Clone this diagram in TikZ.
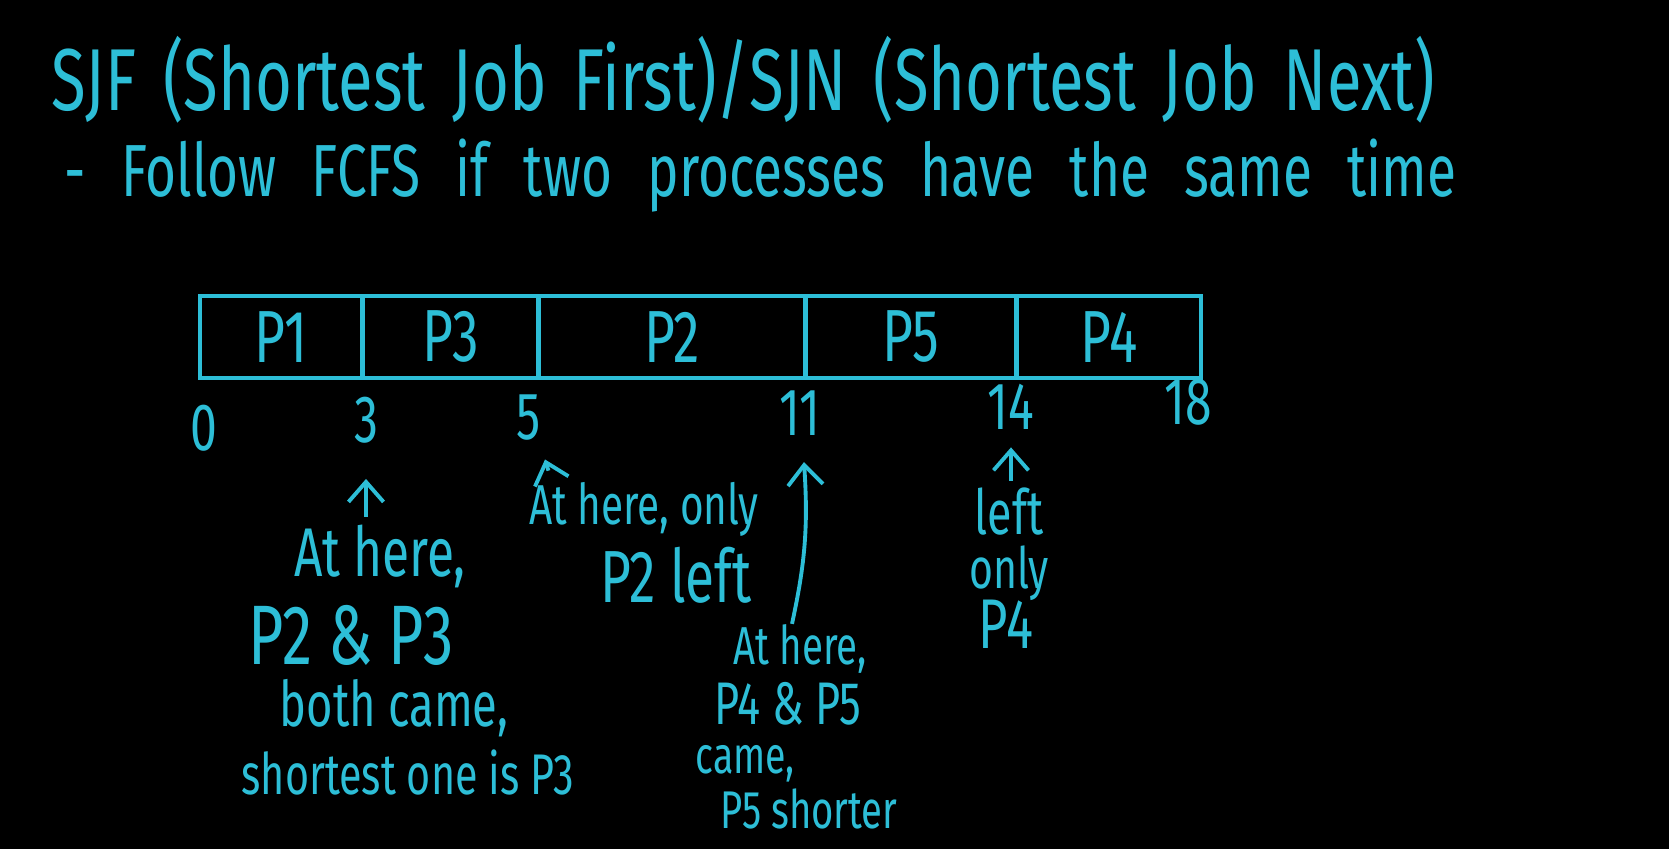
\documentclass[tikz,border=0pt]{standalone}
\usepackage{fontspec}
\setmainfont{Fira Sans}[FakeStretch=0.72]
\usetikzlibrary{arrows.meta}
\definecolor{ink}{RGB}{45,190,215}
\begin{document}
\begin{tikzpicture}[
      x=0.01cm, y=-0.01cm,
      every node/.style={text=ink, inner sep=0pt},
      cell/.style={draw=ink, line width=1.2pt, minimum height=0.82cm,
                   font=\fontsize{21}{24}\selectfont},
      tick/.style={font=\fontsize{19}{22}\selectfont},
      note/.style={font=\fontsize{#1}{#1}\selectfont},
      uparrow/.style={draw=ink, line width=1.1pt,
                      -{Straight Barb[length=2mm,width=3.5mm]}}
    ]
    % Fundo
    \fill[black] (0,0) rectangle (1669,849);

    % Titulo
    \node[anchor=west, font={\fontsize{25}{30}\selectfont\spaceskip=7.7pt\relax}] (title) at (51,80)
      {SJF (Shortest Job First)/SJN (Shortest Job Next)};
    \node[anchor=west, font={\fontsize{21}{26}\selectfont\spaceskip=10pt\relax}] (rule) at (64,176)
      {- Follow FCFS if two processes have the same time};

    % Diagrama de Gantt
    \foreach \name/\x/\w in {P1/281/1.62, P3/451/1.76, P2/672/2.68,
                             P5/911/2.11, P4/1109/1.84}
      \node[cell, minimum width=\w cm] (\name) at (\x,337) {\name};

    % Tempos
    \foreach \t/\x/\y in {0/204/428, 3/366/420, 5/529/418,
                          11/800/413, 14/1011/407, 18/1188/402}
      \node[tick] (t\t) at (\x,\y) {\t};

    % Notas em t = 3
    \node[note=19.6] (n3a) at (380,556) {At here,};
    \node[note=24] (n3b) at (351,635) {P2 \& P3};
    \node[note=17.9] (n3c) at (394,708) {both came,};
    \node[note=16.3] (n3d) at (408,772) {shortest one is P3};
    \draw[uparrow] ([yshift=2pt]n3a.north -| t3.south) -- ([yshift=-10pt]t3.south);

    % Notas em t = 5
    \node[note=16] (n5a) at (644,509) {At here, only};
    \node[note=21] (n5b) at (676,575) {P2 left};
    \draw[uparrow] ([xshift=0.2cm, yshift=3pt]n5a.north west)
      -- ([xshift=0.16cm, yshift=-0.18cm]t5.south);

    % Notas em t = 11
    \node[note=15.2] (n11a) at (800,649) {At here,};
    \node[note=17.1] (n11b) at (788,704) {P4 \& P5};
    \node[note=14.8] (n11c) at (745,764) {came,};
    \node[note=15.1] (n11d) at (809,809) {P5 shorter};
    \draw[uparrow] ([xshift=-0.08cm]n11a.north)
      to[bend right=8] ([xshift=0.04cm, yshift=-0.26cm]t11.south);

    % Notas em t = 14
    \node[note=17.7] (n14a) at (1009,512) {left};
    \node[note=16.2] (n14b) at (1009,573) {only};
    \node[note=20] (n14c) at (1006,624) {P4};
    \draw[uparrow] ([yshift=2pt]n14a.north -| t14.south) -- ([yshift=-0.17cm]t14.south);
  \end{tikzpicture}
\end{document}
